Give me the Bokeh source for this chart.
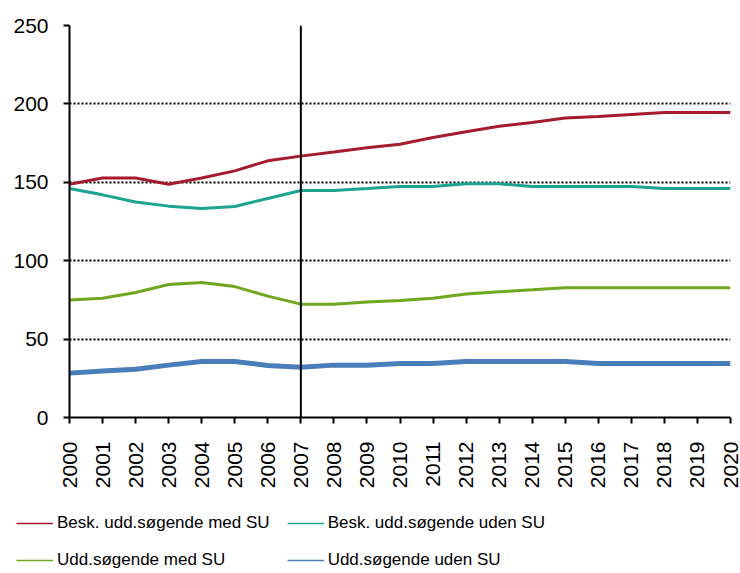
import math
from bokeh.plotting import figure
from bokeh.layouts import column
from bokeh.models import Span, Legend, LegendItem, FixedTicker, Range1d
from bokeh.embed import file_html
from bokeh.resources import INLINE

years = list(range(2000, 2021))
besk_med_su = [148.8, 152.7, 152.7, 148.8, 152.7, 157.3, 163.7, 166.7, 169.3, 172.0,
               174.3, 178.6, 182.2, 185.8, 188.1, 191.0, 192.0, 193.3, 194.5, 194.5, 194.5]
besk_uden_su = [146.0, 142.0, 137.4, 134.8, 133.3, 134.6, 139.7, 144.8, 144.8, 146.0,
                147.3, 147.3, 149.0, 149.0, 147.3, 147.3, 147.3, 147.3, 146.0, 146.0, 146.0]
udd_med_su = [74.9, 76.1, 79.7, 84.8, 86.1, 83.5, 77.4, 72.3, 72.3, 73.6,
              74.6, 76.1, 78.7, 80.2, 81.4, 82.7, 82.7, 82.7, 82.7, 82.7, 82.7]
udd_uden_su = [28.3, 29.6, 30.8, 33.4, 35.7, 35.7, 33.2, 32.1, 33.4, 33.4,
               34.4, 34.4, 35.7, 35.7, 35.7, 35.7, 34.4, 34.4, 34.4, 34.4, 34.4]
labels = ["Besk. udd.søgende med SU", "Besk. udd.søgende uden SU",
          "Udd.søgende med SU", "Udd.søgende uden SU"]
y_ticks = [0, 50, 100, 150, 200, 250]
split_year = 2007

colors = ["#A51C30", "#1CA391", "#6FA81E", "#4A7EBB"]
widths = [3, 3, 3, 5]
FONT = "Liberation Sans"
series = [besk_med_su, besk_uden_su, udd_med_su, udd_uden_su]

p = figure(width=740, height=500, output_backend="svg", toolbar_location=None,
           x_range=Range1d(years[0], years[-1]), y_range=Range1d(y_ticks[0], y_ticks[-1]),
           min_border_left=69, min_border_right=10, min_border_top=25, min_border_bottom=83)
p.outline_line_color = None
p.background_fill_color = "white"
p.border_fill_color = "white"

for ys, c, w in reversed(list(zip(series, colors, widths))):
    p.line(years, ys, line_color=c, line_width=w)

p.add_layout(Span(location=split_year, dimension="height", line_color="black", line_width=2))

# axes
for ax in (p.xaxis, p.yaxis):
    ax.axis_line_color = "black"
    ax.axis_line_width = 2
    ax.major_tick_line_color = "black"
    ax.major_tick_line_width = 2
    ax.major_tick_in = 0
    ax.major_tick_out = 6
    ax.minor_tick_line_color = None
    ax.major_label_text_font = FONT
    ax.major_label_text_font_size = "21px"
    ax.major_label_text_color = "black"

p.xaxis.ticker = FixedTicker(ticks=years)
p.xaxis.major_label_orientation = math.pi / 2
p.xaxis.major_label_standoff = 18
p.yaxis.ticker = FixedTicker(ticks=y_ticks)
p.yaxis.major_label_standoff = 15

p.xgrid.grid_line_color = None
p.ygrid.grid_line_color = "black"
p.ygrid.grid_line_width = 2
p.ygrid.grid_line_dash = "2 2"

# legend strip below the chart (thin sample lines as in the original);
# the series are drawn outside this strip's visible range, only their legend glyphs show
pl = figure(width=740, height=73, output_backend="svg", toolbar_location=None,
            x_range=Range1d(0, 1), y_range=Range1d(0, 1),
            min_border_left=0, min_border_right=0, min_border_top=0, min_border_bottom=0,
            x_axis_location=None, y_axis_location=None)
if "frame_align" in pl.properties():
    pl.frame_align = False
pl.outline_line_color = None
pl.grid.grid_line_color = None
pl.background_fill_color = "white"
pl.border_fill_color = "white"
legend_renderers = [pl.line(years, ys, line_color=c, line_width=1.5) for ys, c in zip(series, colors)]
legend = Legend(items=[LegendItem(label=l, renderers=[r]) for l, r in zip(labels, legend_renderers)],
                location=(16, 3), ncols=2, orientation="horizontal",
                glyph_width=37, glyph_height=20, label_height=20, label_standoff=4,
                spacing=17, padding=0, margin=0,
                border_line_color=None, background_fill_alpha=0,
                label_text_font=FONT, label_text_font_size="17px", label_text_color="black")
pl.add_layout(legend, "center")

layout = column(p, pl, spacing=0)
open("out.html", "w").write(file_html(layout, INLINE))
